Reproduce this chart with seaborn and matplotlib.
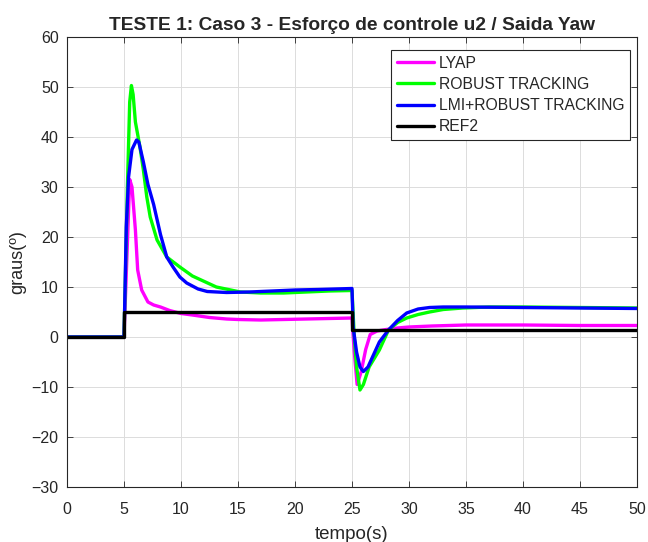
import matplotlib
matplotlib.use("Agg")
import matplotlib.pyplot as plt
import seaborn as sns
import pandas as pd

# Time (s) and yaw output (degrees) for each controller
t_lyap = [0, 5, 5.5, 5.7, 6.0, 6.2, 6.55, 7.1, 7.6, 8.2, 9, 10, 11, 12.5, 14, 15, 17,
          19, 21, 23, 25, 25.2, 25.45, 25.8, 26.2, 26.6, 27.2, 28, 29, 30, 32, 35,
          40, 45, 50]
y_lyap = [0, 0, 31.5, 30, 21.4, 13.4, 9.4, 7, 6.4, 6, 5.3, 4.7, 4.4, 3.9, 3.6, 3.5, 3.4,
          3.5, 3.6, 3.7, 3.8, -3, -9.5, -7, -2.5, 0.5, 1.2, 1.5, 1.8, 2.0, 2.2, 2.4,
          2.4, 2.3, 2.3]

t_robust = [0, 5, 5.05, 5.3, 5.5, 5.65, 5.8, 6.0, 6.4, 6.7, 7.0, 7.3, 7.9, 8.75, 9.9,
            11, 13.1, 15.2, 17, 19, 21, 23, 25, 25.2, 25.4, 25.7, 26.0, 26.5, 27.4,
            28.2, 29, 29.8, 30.8, 31.8, 33, 34.7, 37, 40, 45, 50]
y_robust = [0, 0, 5, 30, 47, 50.3, 48.5, 43, 38, 33.4, 28, 24, 19.4, 16, 14,
            12.2, 10, 9, 8.8, 8.8, 9, 9.2, 9.3, 0, -6, -10.6, -9.5, -6, -2.6,
            1.4, 2.9, 3.8, 4.5, 5, 5.5, 5.8, 6, 6, 5.9, 5.8]

t_lmi = [0, 5, 5.05, 5.2, 5.4, 5.7, 6.1, 6.3, 6.7, 7.1, 7.6, 8.2, 8.75, 9.3, 9.9,
         10.5, 11.5, 12.3, 14, 16, 18, 20, 22, 25, 25.1, 25.4, 25.7, 26.0, 26.4,
         26.8, 27.4, 28.2, 29, 29.8, 30.8, 31.8, 33, 35, 40, 45, 50]
y_lmi = [0, 0, 5, 22, 32, 37.5, 39.4, 39, 35, 30.5, 26.5, 20.5, 16, 14, 12,
         10.8, 9.6, 9.1, 8.9, 9, 9.2, 9.4, 9.5, 9.7, 2, -3, -6, -6.9, -6,
         -4, -1, 1.4, 3.3, 4.8, 5.6, 5.9, 6, 6, 5.9, 5.8, 5.7]

t_ref = [0, 5, 5, 25, 25, 50]
y_ref = [0, 0, 5, 5, 1.5, 1.5]

labels = ["LYAP", "ROBUST TRACKING", "LMI+ROBUST TRACKING", "REF2"]
colors = ["#ff00ff", "#00ff00", "#0000ff", "#000000"]

frames = []
for name, t, y in zip(labels, [t_lyap, t_robust, t_lmi, t_ref],
                      [y_lyap, y_robust, y_lmi, y_ref]):
    frames.append(pd.DataFrame({"tempo": t, "graus": y, "serie": name}))
df = pd.concat(frames, ignore_index=True)

sns.set_style("whitegrid")
plt.rcParams["font.family"] = ["Liberation Sans", "DejaVu Sans"]

fig = plt.figure(figsize=(6.48, 5.42), dpi=100)
ax = fig.add_axes([67 / 648, 1 - 487 / 542, 570 / 648, 450 / 542])

for name, color in zip(labels, colors):
    sub = df[df["serie"] == name]
    sns.lineplot(data=sub, x="tempo", y="graus", color=color, lw=2.4,
                 estimator=None, sort=False, ax=ax, label=name)

ax.set_xlim(0, 50)
ax.set_ylim(-30, 60)
ax.set_xticks(range(0, 51, 5))
ax.set_yticks(range(-30, 61, 10))
ax.grid(True, color="#dcdcdc", linewidth=0.7)
for s in ax.spines.values():
    s.set_color("#262626")
    s.set_linewidth(0.8)
    s.set_visible(True)
ax.tick_params(direction="in", length=4, width=0.6, color="#262626",
               top=True, right=True, bottom=True, left=True,
               labelsize=11.5, labelcolor="#262626")
ax.tick_params(axis="x", pad=11)
ax.tick_params(axis="y", pad=6)

ax.set_title("TESTE 1: Caso 3 - Esforço de controle u2 / Saida Yaw",
             fontsize=13.8, fontweight="bold", pad=5)
ax.set_xlabel("tempo(s)", fontsize=13.5, labelpad=6, color="#262626")
ax.set_ylabel("graus(º)", fontsize=13, labelpad=4, color="#262626")

leg = ax.legend(loc="upper right", bbox_to_anchor=(0.9877, 0.971), fontsize=11.3,
                frameon=True, fancybox=False, framealpha=1, edgecolor="#262626",
                handlelength=2.4, handletextpad=0.3, borderpad=0.35,
                labelspacing=0.4, borderaxespad=0)
leg.get_frame().set_linewidth(0.8)

fig.savefig("out.png", dpi=100)
